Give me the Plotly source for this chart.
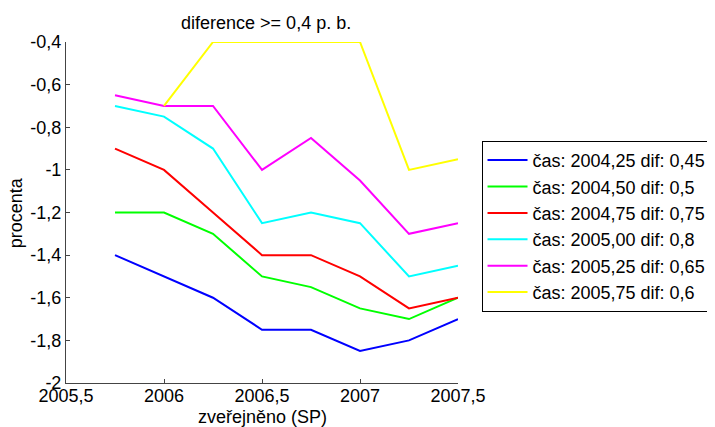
import plotly.graph_objects as go

# quarterly publication dates (SP)
x_dates = [2005.75, 2006.0, 2006.25, 2006.5, 2006.75, 2007.0, 2007.25, 2007.5]

names = ["čas: 2004,25 dif: 0,45", "čas: 2004,50 dif: 0,5", "čas: 2004,75 dif: 0,75",
         "čas: 2005,00 dif: 0,8", "čas: 2005,25 dif: 0,65", "čas: 2005,75 dif: 0,6"]
colors = ["#0000ff", "#00ff00", "#ff0000", "#00ffff", "#ff00ff", "#ffff00"]

blue = [-1.4, -1.5, -1.6, -1.75, -1.75, -1.85, -1.8, -1.7]
green = [-1.2, -1.2, -1.3, -1.5, -1.55, -1.65, -1.7, -1.6]
red = [-0.9, -1.0, -1.2, -1.4, -1.4, -1.5, -1.65, -1.6]
cyan = [-0.7, -0.75, -0.9, -1.25, -1.2, -1.25, -1.5, -1.45]
magenta = [-0.65, -0.7, -0.7, -1.0, -0.85, -1.05, -1.3, -1.25]
yellow = [None, -0.7, -0.4, -0.4, -0.4, -0.4, -1.0, -0.95]

x_ticks = [2005.5, 2006, 2006.5, 2007, 2007.5]
x_labels = ["2005,5", "2006", "2006,5", "2007", "2007,5"]
y_ticks = [-2, -1.8, -1.6, -1.4, -1.2, -1, -0.8, -0.6, -0.4]
y_labels = ["-2", "-1,8", "-1,6", "-1,4", "-1,2", "-1", "-0,8", "-0,6", "-0,4"]

series = [blue, green, red, cyan, magenta, yellow]

fig = go.Figure()
for name, col, ys in zip(names, colors, series):
    fig.add_trace(go.Scatter(x=x_dates, y=ys, name=name, mode="lines",
                             line={"color": col, "width": 2}))

axis_font = {"family": "Liberation Sans, Arial", "size": 18, "color": "black"}
legend_font = {"family": "Liberation Sans, Arial", "size": 18, "color": "black"}
# page body adds an 8px offset, margins are shifted to compensate
fig.update_layout(
    width=715, height=427,
    paper_bgcolor="white", plot_bgcolor="white",
    margin={"l": 58, "r": 252, "t": 34, "b": 52},
    font=axis_font,
    title={"text": "diference >= 0,4 p. b.", "x": 0.361, "xanchor": "center",
           "y": 0.965, "yanchor": "middle", "font": axis_font},
    legend={"x": 1.06, "y": 0.71, "xanchor": "left", "yanchor": "top",
            "bordercolor": "black", "borderwidth": 1, "bgcolor": "white",
            "font": legend_font, "itemwidth": 40},
    xaxis={"range": [2005.5, 2007.5], "tickvals": x_ticks, "ticktext": x_labels,
           "showgrid": False, "zeroline": False, "showline": True, "linecolor": "#444",
           "ticks": "inside", "ticklen": 4, "tickcolor": "#444",
           "ticklabelstandoff": -4, "automargin": False},
    yaxis={"range": [-2, -0.4], "tickvals": y_ticks, "ticktext": y_labels,
           "showgrid": False, "zeroline": False, "showline": True, "linecolor": "#444",
           "ticks": "inside", "ticklen": 4, "tickcolor": "#444", "automargin": False},
    # axis titles as annotations so they sit tight to the tick labels
    annotations=[{"text": "zveřejněno (SP)", "xref": "paper", "yref": "paper",
                  "x": 0.5, "y": -0.1, "xanchor": "center", "yanchor": "middle",
                  "showarrow": False, "font": axis_font},
                 {"text": "procenta", "xref": "paper", "yref": "paper",
                  "x": -0.128, "y": 0.5, "xanchor": "center", "yanchor": "middle",
                  "textangle": -90, "showarrow": False, "font": axis_font}],
)

fig.write_html("out.html")
